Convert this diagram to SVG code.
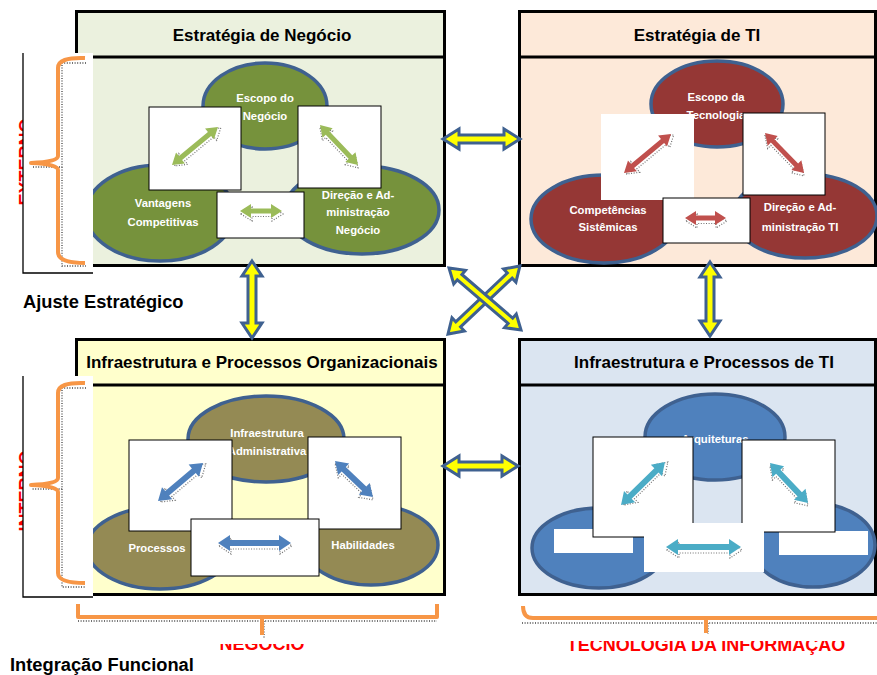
<svg xmlns="http://www.w3.org/2000/svg" width="877" height="675" viewBox="0 0 877 675">
<style>
.box{stroke:#000;stroke-width:3}
.hdr{font-family:"Liberation Sans",Arial,sans-serif;font-weight:bold;font-size:17px;fill:#000;text-anchor:middle}
.lbl{font-family:"Liberation Sans",Arial,sans-serif;font-weight:bold;font-size:18.3px;fill:#000}
.red{font-family:"Liberation Sans",Arial,sans-serif;font-weight:bold;font-size:18px;fill:#ff0000;text-anchor:middle}
.el{stroke:#3f6190;stroke-width:3.5}
.et{font-family:"Liberation Sans",Arial,sans-serif;font-weight:bold;font-size:11.3px;fill:#fff;text-anchor:middle}
.wb{fill:#fff;stroke:#000;stroke-width:1}
.wn{fill:#fff}
.sh{fill:none;stroke:#333;stroke-width:1.2;stroke-dasharray:1 1.6;opacity:0.7}
.ya{fill:#ffff00;stroke:#3f6190;stroke-width:3;stroke-linejoin:miter}
.br{fill:none;stroke:#f79646;stroke-width:4;stroke-linejoin:round}
.brs{fill:none;stroke:#444;stroke-width:1.3;stroke-dasharray:1 1.6}
</style>

<!-- hidden red labels (partly covered) -->
<g id="red-labels">
<text class="red" transform="translate(32,162) rotate(-90)">EXTERNO</text>
<text class="red" transform="translate(32,491) rotate(-90)">INTERNO</text>
<text class="red" x="262" y="650">NEGÓCIO</text>
<text class="red" x="706" y="651">TECNOLOGIA DA INFORMAÇÃO</text>
</g>
<rect class="wn" x="200" y="620" width="130" height="24"/>
<rect class="wn" x="540" y="620" width="330" height="21"/>

<!-- Top-left node -->
<g id="estrategia-negocio">
<rect class="box" x="76.5" y="11.5" width="368" height="254" fill="#ebf1de"/>
<line x1="76.5" y1="57" x2="444.5" y2="57" stroke="#000" stroke-width="3"/>
<text class="hdr" x="262" y="41">Estratégia de Negócio</text>
<ellipse class="el" cx="265" cy="106" rx="62" ry="43" fill="#76923c"/>
<ellipse class="el" cx="160" cy="213" rx="74" ry="48" fill="#76923c"/>
<ellipse class="el" cx="362" cy="210" rx="77" ry="44" fill="#76923c"/>
<text class="et" x="265" y="102">Escopo do</text>
<text class="et" x="265" y="120">Negócio</text>
<text class="et" x="163" y="207">Vantagens</text>
<text class="et" x="163" y="226">Competitivas</text>
<text class="et" x="358" y="199">Direção e Ad-</text>
<text class="et" x="358" y="216">ministração</text>
<text class="et" x="358" y="234">Negócio</text>
<rect class="wb" x="149" y="107" width="92" height="83"/>
<rect class="wb" x="298" y="106" width="83" height="82"/>
<rect class="wb" x="217" y="192" width="87" height="46"/>
<g transform="translate(172,165) rotate(-39.6)"><polygon class="sh" transform="translate(1.5,2.5)" points="0,0 11,-7 11,-2.5 48.7,-2.5 48.7,-7 59.7,0 48.7,7 48.7,2.5 11,2.5 11,7"/><polygon fill="#9bbb59" points="0,0 11,-7 11,-2.5 48.7,-2.5 48.7,-7 59.7,0 48.7,7 48.7,2.5 11,2.5 11,7"/></g>
<g transform="translate(320,125) rotate(46.5)"><polygon class="sh" transform="translate(2,2)" points="0,0 11,-7 11,-2.5 44.2,-2.5 44.2,-7 55.2,0 44.2,7 44.2,2.5 11,2.5 11,7"/><polygon fill="#9bbb59" points="0,0 11,-7 11,-2.5 44.2,-2.5 44.2,-7 55.2,0 44.2,7 44.2,2.5 11,2.5 11,7"/></g>
<g transform="translate(240,211)"><polygon class="sh" transform="translate(1,3)" points="0,0 11,-7 11,-2.5 31,-2.5 31,-7 42,0 31,7 31,2.5 11,2.5 11,7"/><polygon fill="#9bbb59" points="0,0 11,-7 11,-2.5 31,-2.5 31,-7 42,0 31,7 31,2.5 11,2.5 11,7"/></g>
</g>

<!-- Top-right node -->
<g id="estrategia-ti">
<rect class="box" x="519.5" y="11.5" width="356" height="254" fill="#fde9d9"/>
<line x1="519.5" y1="57" x2="875.5" y2="57" stroke="#000" stroke-width="3"/>
<text class="hdr" x="697" y="41">Estratégia de TI</text>
<ellipse class="el" cx="717" cy="104" rx="66" ry="43" fill="#953735"/>
<ellipse class="el" cx="604" cy="219" rx="73" ry="44" fill="#953735"/>
<ellipse class="el" cx="805" cy="216" rx="72" ry="42" fill="#953735"/>
<text class="et" x="716" y="101">Escopo da</text>
<text class="et" x="716" y="119">Tecnologia</text>
<text class="et" x="608" y="214">Competências</text>
<text class="et" x="608" y="231">Sistêmicas</text>
<text class="et" x="800" y="211">Direção e Ad-</text>
<text class="et" x="800" y="231">ministração  TI</text>
<rect class="wn" x="601" y="114" width="93" height="86"/>
<rect class="wb" x="743" y="113" width="82" height="82"/>
<rect class="wb" x="663" y="198" width="87" height="45"/>
<g transform="translate(624,173) rotate(-39.7)"><polygon class="sh" transform="translate(1.5,2.5)" points="0,0 11,-7 11,-2.5 50.1,-2.5 50.1,-7 61.1,0 50.1,7 50.1,2.5 11,2.5 11,7"/><polygon fill="#c0504d" points="0,0 11,-7 11,-2.5 50.1,-2.5 50.1,-7 61.1,0 50.1,7 50.1,2.5 11,2.5 11,7"/></g>
<g transform="translate(765,133) rotate(45.7)"><polygon class="sh" transform="translate(2,2)" points="0,0 11,-7 11,-2.5 44.9,-2.5 44.9,-7 55.9,0 44.9,7 44.9,2.5 11,2.5 11,7"/><polygon fill="#c0504d" points="0,0 11,-7 11,-2.5 44.9,-2.5 44.9,-7 55.9,0 44.9,7 44.9,2.5 11,2.5 11,7"/></g>
<g transform="translate(685,218)"><polygon class="sh" transform="translate(1,3)" points="0,0 11,-7 11,-2.5 30,-2.5 30,-7 41,0 30,7 30,2.5 11,2.5 11,7"/><polygon fill="#c0504d" points="0,0 11,-7 11,-2.5 30,-2.5 30,-7 41,0 30,7 30,2.5 11,2.5 11,7"/></g>
</g>

<!-- Bottom-left node -->
<g id="infra-organizacional">
<rect class="box" x="76.5" y="339.5" width="368" height="255" fill="#ffffcc"/>
<line x1="76.5" y1="385" x2="444.5" y2="385" stroke="#000" stroke-width="3"/>
<text class="hdr" x="262" y="368">Infraestrutura e Processos Organizacionais</text>
<ellipse class="el" cx="266" cy="439" rx="78" ry="43" fill="#948a54"/>
<ellipse class="el" cx="160" cy="548" rx="73" ry="41" fill="#948a54"/>
<ellipse class="el" cx="371" cy="545" rx="67" ry="40" fill="#948a54"/>
<text class="et" x="267" y="437">Infraestrutura</text>
<text class="et" x="267" y="455">Administrativa</text>
<text class="et" x="157" y="552">Processos</text>
<text class="et" x="363" y="549">Habilidades</text>
<rect class="wb" x="129" y="440" width="103" height="91"/>
<rect class="wb" x="308" y="437" width="93" height="92"/>
<rect class="wb" x="191" y="519" width="128" height="57"/>
<g transform="translate(158,501) rotate(-40.2)"><polygon class="sh" transform="translate(1.5,2.5)" points="0,0 12,-8 12,-3 46.9,-3 46.9,-8 58.9,0 46.9,8 46.9,3 12,3 12,8"/><polygon fill="#4f81bd" points="0,0 12,-8 12,-3 46.9,-3 46.9,-8 58.9,0 46.9,8 46.9,3 12,3 12,8"/></g>
<g transform="translate(335,461) rotate(43.5)"><polygon class="sh" transform="translate(2,2)" points="0,0 12,-8 12,-3 40.3,-3 40.3,-8 52.3,0 40.3,8 40.3,3 12,3 12,8"/><polygon fill="#4f81bd" points="0,0 12,-8 12,-3 40.3,-3 40.3,-8 52.3,0 40.3,8 40.3,3 12,3 12,8"/></g>
<g transform="translate(218,543)"><polygon class="sh" transform="translate(1,3)" points="0,0 12,-8 12,-3 61,-3 61,-8 73,0 61,8 61,3 12,3 12,8"/><polygon fill="#4f81bd" points="0,0 12,-8 12,-3 61,-3 61,-8 73,0 61,8 61,3 12,3 12,8"/></g>
</g>

<!-- Bottom-right node -->
<g id="infra-ti">
<rect class="box" x="519.5" y="339.5" width="356" height="255" fill="#dbe5f1"/>
<line x1="519.5" y1="385" x2="875.5" y2="385" stroke="#000" stroke-width="3"/>
<text class="hdr" x="704" y="368">Infraestrutura e Processos de TI</text>
<ellipse class="el" cx="715" cy="437" rx="70" ry="43" fill="#4f81bd" stroke="#385d8a"/>
<ellipse class="el" cx="599" cy="548" rx="67" ry="40" fill="#4f81bd" stroke="#385d8a"/>
<ellipse class="el" cx="813" cy="545" rx="62" ry="42" fill="#4f81bd" stroke="#385d8a"/>
<text class="et" x="715" y="443">Arquiteturas</text>
<rect class="wn" x="554" y="529" width="79" height="24"/>
<rect class="wn" x="779" y="531" width="89" height="24"/>
<rect class="wb" x="593" y="437" width="100" height="100"/>
<rect class="wb" x="742" y="440" width="93" height="92"/>
<rect class="wn" x="644" y="523" width="120" height="49"/>
<g transform="translate(621,505) rotate(-44.3)"><polygon class="sh" transform="translate(2,2)" points="0,0 12,-8 12,-3 49.5,-3 49.5,-8 61.5,0 49.5,8 49.5,3 12,3 12,8"/><polygon fill="#4bacc6" points="0,0 12,-8 12,-3 49.5,-3 49.5,-8 61.5,0 49.5,8 49.5,3 12,3 12,8"/></g>
<g transform="translate(770,463) rotate(46.5)"><polygon class="sh" transform="translate(2,2)" points="0,0 12,-8 12,-3 43.2,-3 43.2,-8 55.2,0 43.2,8 43.2,3 12,3 12,8"/><polygon fill="#4bacc6" points="0,0 12,-8 12,-3 43.2,-3 43.2,-8 55.2,0 43.2,8 43.2,3 12,3 12,8"/></g>
<g transform="translate(666,547)"><polygon class="sh" transform="translate(1,3)" points="0,0 12,-8 12,-3 63,-3 63,-8 75,0 63,8 63,3 12,3 12,8"/><polygon fill="#4bacc6" points="0,0 12,-8 12,-3 63,-3 63,-8 75,0 63,8 63,3 12,3 12,8"/></g>
</g>

<!-- Left brackets -->
<g id="bracket-externo">
<rect x="23" y="53" width="70" height="220" fill="#fff"/>
<path d="M23,53 V273 H93" fill="none" stroke="#000" stroke-width="1.3"/>
<path class="brs" d="M86,63 H62 V167 H32 M62,167 V266 H86"/>
<path class="br" d="M85,58 Q58,57 58,68 L58,156 Q58,162 31,163 Q58,164 58,170 L58,252 Q58,263 85,263"/>
</g>
<g id="bracket-interno">
<rect x="23" y="376" width="70" height="221" fill="#fff"/>
<path d="M23,376 V597 H93" fill="none" stroke="#000" stroke-width="1.3"/>
<path class="brs" d="M86,388 H62 V489 H32 M62,489 V587 H86"/>
<path class="br" d="M85,383 Q58,382 58,393 L58,478 Q58,484 31,485 Q58,486 58,492 L58,573 Q58,583 85,583"/>
</g>

<!-- Bottom brackets -->
<g id="bracket-negocio">
<path class="brs" d="M78,621 H437 M264,621 V639"/>
<path class="br" d="M78,604 V617 H437 V604 M262,617 V635"/>
</g>
<g id="bracket-ti">
<path class="brs" d="M522,623 H877 M708,623 V634"/>
<path class="br" d="M523,606 Q523,618 533,618 H877 M706,618 V633"/>
</g>

<!-- Connectors (yellow double arrows) -->
<g id="connectors">
<g transform="translate(443,139)"><polygon class="ya" points="0,0 16,-10 16,-4 61,-4 61,-10 77,0 61,10 61,4 16,4 16,10"/></g>
<g transform="translate(443,466)"><polygon class="ya" points="0,0 16,-10 16,-4 59,-4 59,-10 75,0 59,10 59,4 16,4 16,10"/></g>
<g transform="translate(252,261) rotate(90)"><polygon class="ya" points="0,0 15,-10 15,-4 62,-4 62,-10 77,0 62,10 62,4 15,4 15,10"/></g>
<g transform="translate(710,262) rotate(90)"><polygon class="ya" points="0,0 15,-10 15,-4 59,-4 59,-10 74,0 59,10 59,4 15,4 15,10"/></g>
<g transform="translate(448,334) rotate(-43.4)"><polygon class="ya" points="0,0 14,-9 14,-3.5 85,-3.5 85,-9 99,0 85,9 85,3.5 14,3.5 14,9"/></g>
<g transform="translate(449,268) rotate(40.7)"><polygon class="ya" points="0,0 14,-9 14,-3.5 81,-3.5 81,-9 95,0 81,9 81,3.5 14,3.5 14,9"/></g>
</g>

<text class="lbl" x="23" y="308">Ajuste Estratégico</text>
<text class="lbl" x="10" y="671">Integração Funcional</text>
</svg>
